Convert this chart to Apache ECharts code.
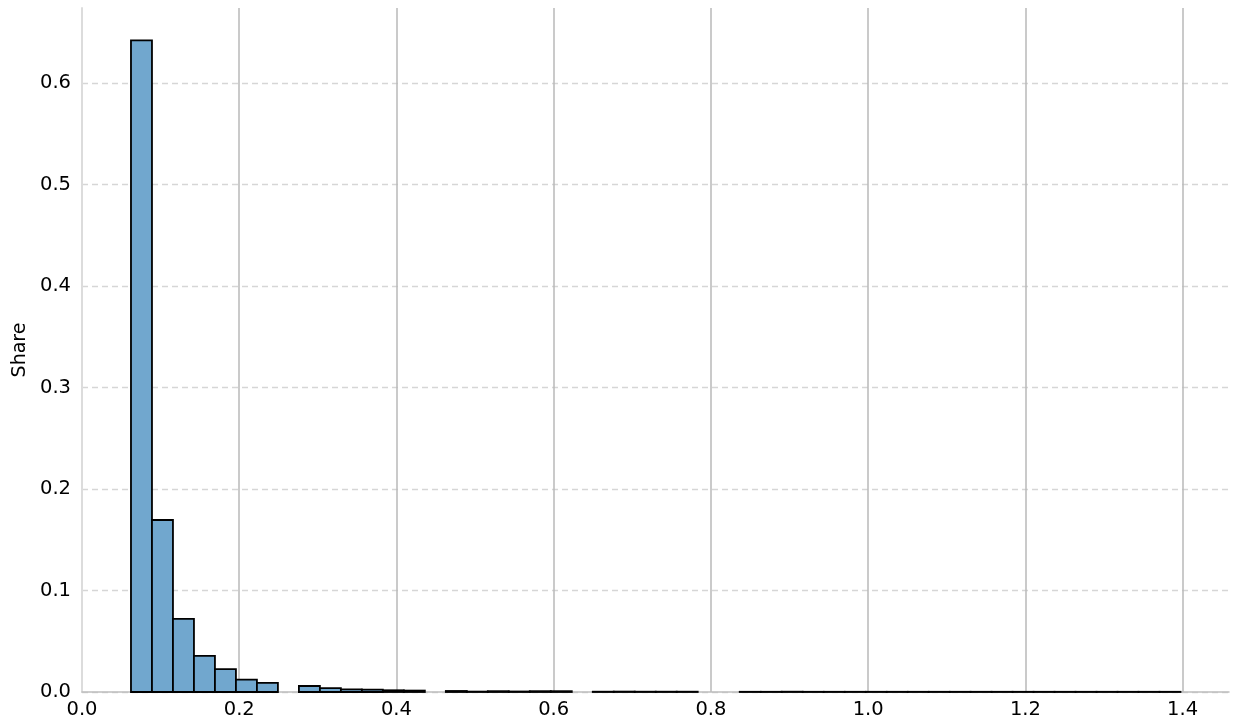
<!DOCTYPE html>
<html>
<head>
<meta charset="utf-8">
<script src="https://cdn.jsdelivr.net/npm/echarts@6/dist/echarts.min.js"></script>
<style>html,body{margin:0;padding:0;background:#fff}#c{width:1233px;height:721px}</style>
</head>
<body>
<div id="c"></div>
<script>
// Histogram bins: left edge of first bin and bin width (x units)
const binStart = 0.0623;
const binWidth = 0.0267;
// Share per bin (null = empty bin)
const shares = [
  0.642, 0.1695, 0.072, 0.0355, 0.0225, 0.0121, 0.0089, null,
  0.0059, 0.0039, 0.0026, 0.0023, 0.0017, 0.0014, null,
  0.0010, 0.0004, 0.0008, 0.0005, 0.0008, 0.0008, null,
  0.0003, 0.0004, 0.0003, 0.0003, 0.0003, null, null,
  0.0002, 0.0002, 0.0003, 0.0002, 0.0002, 0.0002,
  0.0002, 0.0002, 0.0002, 0.0002, 0.0002, 0.0002, 0.0002,
  0.0002, 0.0002, 0.0002, 0.0002, 0.0002, 0.0002, 0.0002, 0.0002
];
const xTickLabels = ['0.0','0.2','0.4','0.6','0.8','1.0','1.2','1.4'];
const yTickLabels = ['0.0','0.1','0.2','0.3','0.4','0.5','0.6'];
const yName = 'Share';

const binData = [];
shares.forEach((v, i) => {
  if (v !== null) binData.push([binStart + i * binWidth, binStart + (i + 1) * binWidth, v]);
});

const chart = echarts.init(document.getElementById('c'), null, {renderer: 'canvas'});
const font = 'DejaVu Sans';
chart.setOption({
  animation: false,
  backgroundColor: '#ffffff',
  grid: {left: 82, right: 4, top: 8, bottom: 29},
  xAxis: {
    type: 'value', min: 0, max: 1.459, interval: 0.2,
    axisLine: {show: true, lineStyle: {color: '#bdbdbd', width: 1.5}},
    axisTick: {show: false},
    axisLabel: {
      fontFamily: font, fontSize: 19.5, color: '#000', margin: 8,
      showMaxLabel: false,
      formatter: v => { const k = Math.round(v / 0.2); return xTickLabels[k] !== undefined ? xTickLabels[k] : ''; }
    },
    splitLine: {show: true, showMaxLine: false, lineStyle: {color: '#b8b8b8', width: 1.5, type: 'solid'}}
  },
  yAxis: {
    type: 'value', min: 0, max: 0.674, interval: 0.1, offset: 3,
    name: yName, nameLocation: 'middle', nameGap: 48,
    nameTextStyle: {fontFamily: font, fontSize: 19, color: '#000'},
    axisLine: {show: true, lineStyle: {color: '#dcdcdc', width: 2}},
    axisTick: {show: false},
    axisLabel: {
      fontFamily: font, fontSize: 19.5, color: '#000', margin: 8,
      showMaxLabel: false,
      formatter: v => { const k = Math.round(v / 0.1); return yTickLabels[k] !== undefined ? yTickLabels[k] : ''; }
    },
    splitLine: {show: true, showMaxLine: false, lineStyle: {color: '#d6d6d6', width: 1.3, type: [6, 4]}}
  },
  series: [{
    type: 'custom',
    data: binData,
    encode: {x: [0, 1], y: 2},
    z: 3,
    renderItem: (params, api) => {
      const p0 = api.coord([api.value(0), 0]);
      const p1 = api.coord([api.value(1), api.value(2)]);
      return {
        type: 'rect',
        shape: {x: p0[0], y: p1[1], width: p1[0] - p0[0], height: p0[1] - p1[1]},
        style: {fill: '#71a7ce', stroke: '#000', lineWidth: 1.8}
      };
    }
  }]
});
</script>
</body>
</html>
